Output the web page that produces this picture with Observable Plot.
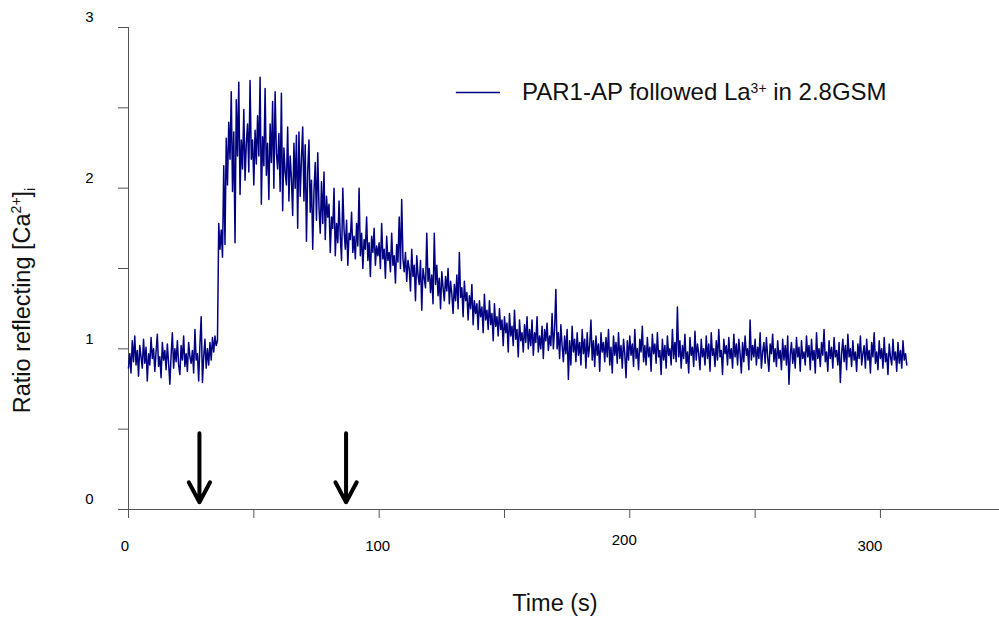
<!DOCTYPE html>
<html>
<head>
<meta charset="utf-8">
<script src="https://cdn.jsdelivr.net/npm/d3@7"></script>
<script src="https://cdn.jsdelivr.net/npm/@observablehq/plot@0.6"></script>
<style>
  html, body { margin: 0; padding: 0; background: #fff; }
</style>
</head>
<body>
<div id="chart"></div>
<script>
// ---------- data ----------
const sampleInterval = 0.5; // seconds between samples

// t = 0 … 35.5 s
const ratioBaseline = [
  0.88, 0.97, 0.85, 1.05, 0.92, 1.08, 0.90, 0.99, 0.83, 1.02, 0.95, 0.88, 1.06, 0.91, 1.01, 0.80, 0.97, 0.90, 1.07, 0.94,
  1.00, 0.86, 0.98, 1.09, 0.89, 0.95, 0.82, 1.04, 0.93, 0.99, 0.87, 1.03, 0.91, 0.78, 0.96, 1.10, 0.88, 1.00, 0.92, 1.05,
  0.90, 0.84, 1.02, 0.93, 1.08, 0.89, 0.97, 0.86, 1.04, 0.95, 0.91, 0.99, 0.85, 1.12, 0.93, 0.97, 0.80, 1.03, 1.20, 0.79,
  0.95, 1.06, 0.88, 1.00, 0.90, 1.04, 0.93, 1.07, 0.98, 1.08, 1.02, 1.05
];
// t = 36 … 69.5 s
const ratioPeak = [
  1.78, 1.62, 1.74, 1.57, 2.14, 1.65, 2.31, 2.02,
  2.41, 2.18, 2.60, 1.98, 2.35, 1.66, 2.55, 2.20, 2.66, 1.96, 2.30, 2.12, 2.49, 2.05, 2.28, 2.40, 2.10, 2.67, 2.18, 2.30,
  2.02, 2.36, 2.15, 2.45, 2.20, 2.69, 1.90, 2.32, 2.14, 2.62, 2.08, 2.28, 1.93, 2.40, 2.16, 2.54, 2.00, 2.60, 2.22, 2.12,
  2.34, 1.98, 2.59, 1.86, 2.25, 2.10, 2.02, 2.38, 1.92, 2.20, 2.06, 1.83, 2.28, 2.00, 2.33, 1.75, 2.35, 1.95, 2.18, 2.38
];
// t = 70 … 179.5 s
const ratioDecay = [
  1.92, 2.27, 1.67, 2.10, 2.30, 1.85, 2.05, 1.62, 1.98, 2.16, 1.80, 2.22, 1.88, 1.72, 2.04, 1.78, 2.10, 1.68, 1.95, 1.82,
  1.90, 1.60, 1.82, 1.75, 2.00, 1.58, 1.78, 1.66, 1.92, 1.70, 1.55, 2.00, 1.74, 1.62, 1.80, 1.52, 1.72, 1.68, 1.85, 1.60,
  1.70, 1.56, 1.78, 1.64, 2.00, 1.58, 1.72, 1.50, 1.68, 1.62, 1.82, 1.55, 1.66, 1.45, 1.70, 1.60, 1.75, 1.52, 1.64, 1.58,
  1.66, 1.50, 1.78, 1.56, 1.62, 1.44, 1.70, 1.55, 1.60, 1.48, 1.72, 1.52, 1.58, 1.41, 1.65, 1.54, 1.82, 1.50, 1.93, 1.56,
  1.48, 1.60, 1.42, 1.55, 1.50, 1.36, 1.62, 1.45, 1.52, 1.30, 1.58, 1.46, 1.40, 1.55, 1.24, 1.50, 1.44, 1.38, 1.72, 1.42,
  1.50, 1.35, 1.46, 1.28, 1.72, 1.40, 1.52, 1.33, 1.44, 1.25, 1.48, 1.38, 1.30, 1.45, 1.36, 1.50, 1.28, 1.42, 1.34, 1.22,
  1.40, 1.30, 1.46, 1.25, 1.60, 1.32, 1.38, 1.20, 1.42, 1.30, 1.35, 1.18, 1.33, 1.25, 1.40, 1.15, 1.30, 1.22, 1.28, 1.12,
  1.30, 1.20, 1.26, 1.10, 1.34, 1.18, 1.24, 1.12, 1.30, 1.15, 1.22, 1.05, 1.28, 1.14, 1.20, 1.08, 1.25, 1.12, 1.18, 1.02,
  1.20, 1.10, 1.16, 0.98, 1.22, 1.08, 1.14, 1.02, 1.24, 1.06, 1.12, 0.95, 1.18, 1.05, 1.10, 0.98, 1.15, 1.04, 1.20, 1.00,
  1.12, 1.02, 1.18, 0.96, 1.10, 1.04, 1.20, 0.98, 1.08, 1.00, 1.14, 0.94, 1.12, 1.05, 1.16, 0.99, 1.08, 1.02, 1.22, 1.00,
  1.12, 1.37, 1.00, 1.10, 0.94, 1.15, 1.02, 0.92, 1.08, 0.97, 1.12, 0.81, 1.05, 0.90, 1.14, 0.98, 1.06, 0.92, 1.10, 0.96
];
// t = 180 … 310.5 s
const ratioTail = [
  1.04, 0.90, 1.12, 0.97, 1.06, 0.88, 1.10, 0.95, 1.02, 1.18, 0.93, 1.05, 0.89, 1.08, 0.96, 1.03, 0.86, 1.10, 0.98, 1.04,
  0.92, 1.07, 0.95, 1.12, 0.90, 1.01, 0.85, 1.08, 0.96, 1.04, 0.91, 1.10, 0.94, 1.02, 0.88, 1.06, 0.97, 0.82, 1.05, 0.93,
  1.08, 0.96, 1.03, 0.89, 1.12, 0.94, 1.00, 0.87, 1.06, 0.98, 1.14, 0.92, 1.02, 0.90, 1.07, 0.95, 1.01, 0.86, 1.09, 0.97,
  1.03, 0.91, 1.10, 0.95, 0.99, 0.84, 1.06, 0.93, 1.02, 0.88, 1.08, 0.96, 1.00, 0.90, 1.12, 0.94, 1.04, 0.92, 1.26, 0.95,
  1.05, 0.88, 1.02, 0.94, 1.09, 0.91, 0.98, 0.85, 1.07, 0.96, 1.01, 0.89, 1.11, 0.93, 1.03, 0.97, 0.87, 1.06, 0.95, 1.00,
  0.90, 1.08, 0.94, 1.03, 0.86, 1.10, 0.96, 1.00, 0.89, 1.05, 0.93, 1.12, 0.95, 0.99, 0.84, 1.06, 0.97, 1.02, 0.90, 1.07,
  0.94, 1.00, 0.88, 1.09, 0.95, 1.03, 0.90, 1.06, 0.97, 0.85, 1.04, 0.92, 1.08, 0.96, 1.00, 0.87, 1.18, 0.93, 1.02, 0.95,
  1.06, 0.90, 1.01, 0.94, 1.10, 0.88, 0.98, 1.04, 0.91, 1.07, 0.95, 0.86, 1.03, 0.97, 1.09, 0.92, 1.00, 0.89, 1.05, 0.94,
  0.99, 0.87, 1.06, 0.93, 1.02, 0.90, 1.08, 0.78, 0.96, 1.04, 0.91, 1.00, 0.88, 1.07, 0.95, 1.01, 0.86, 1.05, 0.94, 0.98,
  0.90, 1.08, 0.95, 1.02, 0.87, 1.06, 0.93, 0.99, 0.85, 1.10, 0.94, 1.00, 0.89, 1.04, 0.96, 1.12, 0.92, 0.98, 0.86, 1.05,
  0.94, 1.01, 0.88, 1.07, 0.95, 0.99, 0.90, 1.04, 0.79, 0.97, 1.06, 0.92, 1.02, 0.87, 1.09, 0.95, 1.00, 0.89, 1.05, 0.93,
  0.98, 0.86, 1.03, 0.94, 1.08, 0.90, 0.97, 1.02, 0.88, 1.06, 0.93, 0.99, 0.85, 1.04, 0.95, 1.10, 0.91, 0.98, 0.87, 1.05,
  0.94, 1.00, 0.88, 1.07, 0.92, 0.97, 0.84, 1.03, 0.95, 0.90, 1.06, 0.93, 0.98, 0.86, 1.04, 0.91, 0.99, 0.88, 1.05, 0.93,
  0.97, 0.90
];

const xTicks = [0, 50, 100, 150, 200, 250, 300];
const xTickLabels = [0, 100, 200, 300];
const yTicks = [0, 0.5, 1, 1.5, 2, 2.5, 3];
const yTickLabels = [0, 1, 2, 3];
const arrowTimes = [28.3, 86.8];          // s, agonist additions
const arrowFrom = 0.475, arrowTo = 0.045; // ratio units
const seriesName = "PAR1-AP followed La3+ in 2.8GSM";
const xTitle = "Time (s)";
const yTitle = "Ratio reflecting [Ca2+]i";

// ---------- layout / style ----------
const lineColor = "#000080";
const axisColor = "#555";
const font = "'Liberation Sans', Arial, Helvetica, sans-serif";
const xLabelNudge = {0: [-3.5, 36.5], 100: [-1.5, 36.5], 200: [-5.5, 31], 300: [-10.5, 37]};
const legendPos = {x1: 130.8, x2: 148.4, xText: 157, y: 2.595};

const ratio = [...ratioBaseline, ...ratioPeak, ...ratioDecay, ...ratioTail];
const trace = ratio.map((v, i) => ({t: i * sampleInterval, v}));

const chart = Plot.plot({
  width: 999,
  height: 617,
  marginLeft: 128,
  marginRight: 0,
  marginTop: 27,
  marginBottom: 108,
  x: {domain: [0, 347.5], axis: null},
  y: {domain: [0, 3], axis: null},
  style: {fontFamily: font, background: "#fff", color: "#000"},
  marks: [
    Plot.ruleY([0], {stroke: axisColor}),
    Plot.ruleX([0], {y1: 0, y2: 3, stroke: axisColor}),
    Plot.axisX(xTicks, {anchor: "bottom", tickSize: 9, tickFormat: () => "", label: null, color: axisColor}),
    Plot.axisY(yTicks, {anchor: "left", tickSize: 10, tickFormat: () => "", label: null, color: axisColor}),
    ...xTickLabels.map(v => Plot.text([v], {
      x: d => d, y: 0, text: d => String(d),
      dx: xLabelNudge[v][0], dy: xLabelNudge[v][1], fontSize: 15, fill: "#000"
    })),
    Plot.text(yTickLabels, {x: 0, y: d => d, text: d => String(d), textAnchor: "end", dx: -35, dy: -10, fontSize: 15, fill: "#000"}),
    Plot.line(trace, {x: "t", y: "v", stroke: lineColor, strokeWidth: 1.5}),
    Plot.arrow(arrowTimes, {x1: d => d, x2: d => d, y1: arrowFrom, y2: arrowTo, stroke: "#000", strokeWidth: 4, headLength: 8.5, headAngle: 56}),
    Plot.ruleY([legendPos.y], {x1: legendPos.x1, x2: legendPos.x2, stroke: lineColor, strokeWidth: 1.4}),
    Plot.text([seriesName], {x: legendPos.xText, y: legendPos.y, text: d => d, textAnchor: "start", lineAnchor: "middle", fontSize: 24, fill: "#111"}),
    Plot.text([xTitle], {frameAnchor: "bottom", text: d => d, textAnchor: "middle", lineAnchor: "middle", dx: -9, dy: 94, fontSize: 23.5, fill: "#111"}),
    Plot.text([yTitle], {frameAnchor: "left", text: d => d, textAnchor: "middle", lineAnchor: "middle", rotate: -90, dx: -106, dy: 32, fontSize: 23.5, fill: "#111"})
  ]
});

document.getElementById("chart").appendChild(chart);

// rich text: superscripts / subscripts
function rich(match, parts) {
  d3.select(chart).selectAll("text").filter(function () { return this.textContent === match; }).each(function () {
    const sel = d3.select(this);
    sel.text(null);
    for (const p of parts) {
      const ts = sel.append("tspan").text(p.text);
      if (p.size) ts.attr("font-size", p.size);
      if (p.dy) ts.attr("dy", p.dy);
    }
  });
}
rich(seriesName, [
  {text: "PAR1-AP followed La"},
  {text: "3+", size: 14, dy: -7},
  {text: " in 2.8GSM", dy: 7}
]);
rich(yTitle, [
  {text: "Ratio reflecting [Ca"},
  {text: "2+", size: 14, dy: -9},
  {text: "]", dy: 9},
  {text: "i", size: 14, dy: 5}
]);
</script>
</body>
</html>
